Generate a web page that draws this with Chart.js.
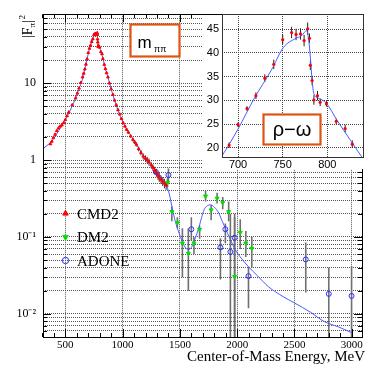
<!DOCTYPE html>
<html>
<head>
<meta charset="utf-8">
<script src="https://cdn.jsdelivr.net/npm/chart.js@4.4.1/dist/chart.umd.min.js"></script>
<style>
  html, body { margin: 0; padding: 0; background: #fff; }
  #wrap { position: relative; width: 367px; height: 366px; }
  #main { position: absolute; left: 0; top: 0; }
  #inset { position: absolute; left: 190px; top: 0; }
</style>
</head>
<body>
<div id="wrap">
  <canvas id="main" width="367" height="366"></canvas>
  <canvas id="inset" width="177" height="175"></canvas>
</div>
<script>
// CMD2 (red) - energy in MeV, |F|^2 and error
const cmd2E = [370, 382, 395, 410, 425, 440, 455, 470, 485, 500, 515, 530, 560, 590, 605, 620, 635, 650, 660, 670, 680,
  690, 700, 710, 720, 730, 740, 750, 760, 765, 770, 774, 778, 780, 781, 783, 785, 789, 792, 799, 810, 820, 828,
  840, 850, 860, 872, 885, 900, 915, 930, 945, 960, 975, 990, 1005, 1020, 1035, 1050, 1070, 1090, 1105, 1120,
  1140, 1160, 1180, 1200, 1215, 1230, 1250, 1265, 1280, 1295, 1310, 1320, 1335, 1350, 1365, 1380];
const cmd2F = [1.62, 1.75, 1.95, 2.15, 2.4, 2.6, 2.75, 2.85, 3.05, 3.35, 3.75, 4.2, 5.2, 6.4, 7.4, 8.6, 10.2, 12.0, 13.4, 15.2, 17.6,
  20.6, 24.9, 28.3, 31.0, 34.7, 37.6, 42.8, 44.3, 43.9, 44.0, 42.6, 45.1, 43.1, 37.4, 34.2, 30.1, 31.0, 29.6, 29.3, 25.6, 24.1, 20.8,
  17.5, 15.4, 13.6, 12.0, 10.0, 8.4, 7.1, 6.0, 5.2, 4.5, 3.95, 3.45, 3.05, 2.75, 2.5, 2.3, 2.05, 1.85, 1.72, 1.6,
  1.4, 1.25, 1.12, 1.05, 1.0, 0.95, 0.86, 0.8, 0.74, 0.69, 0.63, 0.6, 0.56, 0.53, 0.5, 0.47];
const cmd2Err = [0.05, 0.05, 0.06, 0.06, 0.07, 0.07, 0.08, 0.08, 0.08, 0.09, 0.1, 0.1, 0.12, 0.15, 0.2, 0.2, 0.25, 0.3, 0.3, 0.4, 0.5,
  0.6, 0.5, 0.5, 0.7, 0.8, 1.0, 1.0, 1.2, 1.2, 1.2, 1.2, 1.3, 1.0, 1.0, 1.0, 1.0, 1.0, 0.8, 0.6, 0.6, 0.8, 0.8,
  0.5, 0.5, 0.4, 0.4, 0.3, 0.3, 0.2, 0.2, 0.15, 0.15, 0.12, 0.1, 0.1, 0.1, 0.1, 0.1, 0.1, 0.1, 0.1, 0.1,
  0.1, 0.1, 0.1, 0.1, 0.1, 0.1, 0.08, 0.08, 0.08, 0.08, 0.08, 0.08, 0.07, 0.07, 0.07, 0.06];

// DM2 (green)
const dm2E = [1392, 1430, 1478, 1522, 1574, 1623, 1672, 1724, 1773, 1825, 1874, 1926, 1978, 2027, 2076, 2128];
const dm2F = [0.51, 0.213, 0.153, 0.083, 0.061, 0.083, 0.125, 0.34, 0.224, 0.318, 0.279, 0.213, 0.0305, 0.114, 0.083, 0.071];
const dm2Lo = [0.44, 0.16, 0.13, 0.030, 0.02, 0.06, 0.095, 0.29, 0.165, 0.273, 0.23, 0.16, 0.004, 0.07, 0.055, 0.04];
const dm2Hi = [0.58, 0.25, 0.18, 0.13, 0.13, 0.10, 0.14, 0.40, 0.26, 0.375, 0.33, 0.29, 0.2, 0.17, 0.12, 0.1];

// ADONE (blue circles)
const adoneE = [1290, 1400, 1600, 1854, 1897, 1941, 1978, 2099, 2599, 2800, 2999];
const adoneF = [0.70, 0.64, 0.126, 0.073, 0.126, 0.064, 0.098, 0.031, 0.051, 0.0182, 0.0171];
const adoneLo = [0.64, 0.50, 0.09, 0.028, 0.083, 0.004, 0.004, 0.0118, 0.019, 0.004, 0.004];
const adoneHi = [0.76, 0.78, 0.18, 0.096, 0.15, 0.2, 0.18, 0.041, 0.085, 0.04, 0.042];

// fit curve
const fitE = [305, 340, 380, 420, 460, 500, 540, 580, 620, 650, 682, 700, 718, 737, 751, 764, 771, 777, 779, 781, 783, 785,
  791, 799, 811, 826, 838, 850, 872, 900, 930, 960, 990, 1030, 1090, 1150, 1200, 1250, 1300, 1350, 1380, 1406, 1435,
  1460, 1493, 1522, 1545, 1570, 1600, 1623, 1650, 1672, 1690, 1710, 1740, 1767, 1800, 1840, 1870, 1897, 1940, 1984,
  2040, 2099, 2180, 2272, 2400, 2503, 2640, 2763, 2880, 3000];
const fitF = [1.4, 1.55, 1.75, 2.15, 2.65, 3.35, 4.35, 5.9, 8.5, 11.3, 18.4, 24.0, 30.4, 36.3, 41.2, 43.0, 43.6, 44.7, 43.0, 39.1, 34.2, 31.4,
  30.4, 29.4, 25.8, 21.6, 18.3, 15.3, 12.0, 8.4, 6.0, 4.4, 3.4, 2.6, 1.9, 1.35, 1.05, 0.87, 0.7, 0.58, 0.47, 0.37, 0.23,
  0.16, 0.112, 0.087, 0.074, 0.068, 0.073, 0.087, 0.112, 0.143, 0.18, 0.224, 0.255, 0.262, 0.245, 0.204, 0.16, 0.13, 0.093, 0.068,
  0.052, 0.041, 0.031, 0.0226, 0.0168, 0.0138, 0.0105, 0.0079, 0.0068, 0.0057];

const xTicks = [500, 1000, 1500, 2000, 2500, 3000];
const yTicks = [0.01, 0.1, 1, 10];
const yTickLabels = ['10⁻²', '10⁻¹', '1', '10'];
const insetXTicks = [700, 750, 800];
const insetYTicks = [20, 25, 30, 35, 40, 45];
const legendNames = ['CMD2', 'DM2', 'ADONE'];

const serif = 'Liberation Serif';
const sans = 'Liberation Sans';

const pts = (xs, ys) => xs.map((x, i) => ({ x: x, y: ys[i] }));

const errorBars = {
    id: 'errorBars',
    beforeDatasetsDraw(chart) {
        const { ctx, chartArea: a, scales: { x, y } } = chart;
        ctx.save();
        ctx.beginPath();
        ctx.rect(a.left, a.top, a.right - a.left, a.bottom - a.top);
        ctx.clip();
        chart.data.datasets.forEach(ds => {
            if (!ds.errLo) return;
            ctx.strokeStyle = ds.errColor;
            ctx.lineWidth = ds.errWidth;
            ds.data.forEach((p, j) => {
                const px = x.getPixelForValue(p.x);
                ctx.beginPath();
                ctx.moveTo(px, y.getPixelForValue(ds.errLo[j]));
                ctx.lineTo(px, y.getPixelForValue(ds.errHi[j]));
                ctx.stroke();
            });
        });
        ctx.restore();
    }
};

const frame = {
    id: 'frame',
    afterDraw(chart, args, opts) {
        const { ctx, chartArea: a } = chart;
        ctx.save();
        ctx.strokeStyle = opts.color || '#000';
        ctx.lineWidth = 1;
        ctx.strokeRect(Math.round(a.left) + 0.5, Math.round(a.top) + 0.5, Math.round(a.right - a.left), Math.round(a.bottom - a.top));
        ctx.restore();
    }
};

// small inner tick marks, ROOT style
const innerTicks = {
    id: 'innerTicks',
    afterDatasetsDraw(chart) {
        const { ctx, chartArea: a, scales: { x, y } } = chart;
        ctx.save();
        ctx.strokeStyle = '#000';
        ctx.lineWidth = 1;
        ctx.beginPath();
        const step = (xTicks[1] - xTicks[0]) / 5;
        for (let v = xTicks[0] - step * 2; v <= x.max; v += step) {
            const px = Math.round(x.getPixelForValue(v)) + 0.5;
            const len = (v % (step * 5) === 0) ? 8 : 4;
            ctx.moveTo(px, a.bottom); ctx.lineTo(px, a.bottom - len);
            ctx.moveTo(px, a.top); ctx.lineTo(px, a.top + len);
        }
        y.ticks.forEach(t => {
            const py = Math.round(y.getPixelForValue(t.value)) + 0.5;
            const len = t.major ? 8 : 4;
            ctx.moveTo(a.left, py); ctx.lineTo(a.left + len, py);
            ctx.moveTo(a.right, py); ctx.lineTo(a.right - len, py);
        });
        ctx.stroke();
        ctx.restore();
    }
};

const decorations = {
    id: 'decorations',
    afterDraw(chart) {
        const { ctx } = chart;
        ctx.save();
        // legend
        const rows = [213.5, 237, 260.5];
        legendNames.forEach((name, i) => {
            const ds = chart.data.datasets[i];
            ctx.fillStyle = ds.backgroundColor;
            ctx.strokeStyle = ds.borderColor;
            ctx.lineWidth = ds.borderWidth;
            Chart.helpers.drawPoint(ctx, {
                pointStyle: ds.pointStyle, radius: 3.2, rotation: ds.rotation || 0,
                borderWidth: ds.borderWidth
            }, 65.5, rows[i]);
            ctx.fillStyle = '#000';
            ctx.font = '15px "' + serif + '"';
            ctx.textBaseline = 'alphabetic';
            ctx.textAlign = 'left';
            ctx.fillText(name, 77, rows[i] + 5);
        });
        // x title
        ctx.fillStyle = '#000';
        ctx.font = '15px "' + serif + '"';
        ctx.textAlign = 'right';
        ctx.fillText('Center-of-Mass Energy, MeV', 365, 361);
        // y title |F_pi|^2
        ctx.save();
        ctx.translate(32, 38);
        ctx.rotate(-Math.PI / 2);
        ctx.textAlign = 'left';
        ctx.font = '14px "' + serif + '"';
        ctx.fillText('|F', 0, 0);
        let w = ctx.measureText('|F').width;
        ctx.font = '9px "' + serif + '"';
        ctx.fillText('π', w, 3);
        w += ctx.measureText('π').width;
        ctx.font = '14px "' + serif + '"';
        ctx.fillText('|', w, 0);
        w += ctx.measureText('|').width;
        ctx.font = '9px "' + serif + '"';
        ctx.fillText('2', w + 0.5, -7);
        ctx.restore();
        // m_pipi box
        ctx.fillStyle = '#fff';
        ctx.fillRect(130, 24, 49, 32);
        ctx.strokeStyle = '#dd5516';
        ctx.lineWidth = 2.2;
        ctx.strokeRect(130.5, 24.5, 49, 32);
        ctx.fillStyle = '#000';
        ctx.textAlign = 'left';
        ctx.font = '17px "' + sans + '"';
        ctx.fillText('m', 137.5, 47.5);
        ctx.font = '9px "' + sans + '"';
        ctx.fillText('ππ', 154, 52);
        ctx.restore();
    }
};

const mainSets = [
    {
        label: legendNames[0], data: pts(cmd2E, cmd2F),
        pointStyle: 'triangle', pointRadius: 1.6, backgroundColor: '#ff0000', borderColor: '#ff0000', borderWidth: 1,
        errLo: cmd2F.map((v, i) => v - cmd2Err[i]), errHi: cmd2F.map((v, i) => v + cmd2Err[i]),
        errColor: '#333', errWidth: 1
    },
    {
        label: legendNames[1], data: pts(dm2E, dm2F),
        pointStyle: 'triangle', rotation: 180, pointRadius: 2.3, backgroundColor: '#00e000', borderColor: '#00e000', borderWidth: 1,
        errLo: dm2Lo, errHi: dm2Hi, errColor: '#707070', errWidth: 1.6
    },
    {
        label: legendNames[2], data: pts(adoneE, adoneF),
        pointStyle: 'circle', pointRadius: 2.5, backgroundColor: 'rgba(0,0,0,0)', borderColor: '#3030ff', borderWidth: 1,
        errLo: adoneLo, errHi: adoneHi, errColor: '#707070', errWidth: 1.6
    },
    {
        type: 'line', label: 'fit', data: pts(fitE, fitF),
        borderColor: '#4a5cff', borderWidth: 1, pointRadius: 0, fill: false, cubicInterpolationMode: 'monotone'
    }
];

new Chart(document.getElementById('main'), {
    type: 'scatter',
    data: { datasets: mainSets },
    options: {
        responsive: false,
        animation: false,
        layout: { padding: { top: 14, right: 3, left: 0, bottom: 0 } },
        plugins: { legend: { display: false }, tooltip: { enabled: false }, frame: { color: '#000' } },
        scales: {
            x: {
                type: 'linear', min: 305, max: 3090,
                afterBuildTicks: s => { s.ticks = xTicks.map(v => ({ value: v })); },
                afterFit: s => { s.height = 29; },
                ticks: {
                    font: { family: serif, size: 11 }, color: '#000', padding: 2, maxRotation: 0, autoSkip: false,
                    callback: v => String(v)
                },
                grid: { color: '#555', drawTicks: false },
                border: { display: false, dash: [1, 1] }
            },
            y: {
                type: 'logarithmic', min: 0.005, max: 79,
                afterBuildTicks: s => {
                    const t = [];
                    yTicks.forEach(base => {
                        for (let m = 1; m <= 9; m++) t.push({ value: base * m, major: m === 1 });
                    });
                    t.unshift({ value: 0.005, major: false }, { value: 0.006, major: false },
                        { value: 0.007, major: false }, { value: 0.008, major: false }, { value: 0.009, major: false });
                    s.ticks = t.filter(k => k.value <= s.max);
                },
                afterFit: s => { s.width = 43; },
                ticks: {
                    font: { family: serif, size: 12 }, color: '#000', padding: 7, autoSkip: false,
                    callback: v => {
                        const i = yTicks.findIndex(t => Math.abs(Math.log10(t) - Math.log10(v)) < 1e-6);
                        return i >= 0 ? yTickLabels[i] : '';
                    }
                },
                grid: { color: '#555', drawTicks: false },
                border: { display: false, dash: [1, 1] }
            }
        }
    },
    plugins: [errorBars, innerTicks, frame, decorations]
});

// inset: rho-omega region
const insetPad = {
    id: 'insetPad',
    beforeDraw(chart) {
        const { ctx, chartArea: a } = chart;
        ctx.save();
        ctx.fillStyle = '#fff';
        ctx.fillRect(a.left - 19, a.top + 1, a.right - a.left + 21, a.bottom - a.top + 11);
        ctx.restore();
    },
    afterDraw(chart) {
        const { ctx, chartArea: a } = chart;
        ctx.save();
        const bx = a.left + 41, by = a.top + 100;
        ctx.fillStyle = '#fff';
        ctx.fillRect(bx, by, 58, 31);
        ctx.strokeStyle = '#dd5516';
        ctx.lineWidth = 2.2;
        ctx.strokeRect(bx + 0.5, by + 0.5, 57, 30);
        ctx.fillStyle = '#000';
        ctx.font = '20px "' + sans + '"';
        ctx.textAlign = 'center';
        ctx.textBaseline = 'alphabetic';
        ctx.fillText('ρ−ω', bx + 29, by + 22);
        ctx.restore();
    }
};

new Chart(document.getElementById('inset'), {
    type: 'scatter',
    data: {
        datasets: [
            {
                data: pts(cmd2E, cmd2F), pointStyle: 'circle', pointRadius: 1.6,
                backgroundColor: '#ff0000', borderColor: '#ff0000', borderWidth: 0,
                errLo: cmd2F.map((v, i) => v - cmd2Err[i]), errHi: cmd2F.map((v, i) => v + cmd2Err[i]),
                errColor: '#222', errWidth: 1
            },
            {
                type: 'line', data: pts(fitE, fitF), borderColor: '#4a5cff', borderWidth: 1, pointRadius: 0,
                fill: false, cubicInterpolationMode: 'monotone'
            }
        ]
    },
    options: {
        responsive: false,
        animation: false,
        layout: { padding: { top: 14, right: 2, left: 0, bottom: 0 } },
        plugins: { legend: { display: false }, tooltip: { enabled: false }, frame: { color: '#333' } },
        scales: {
            x: {
                type: 'linear', min: 682, max: 840,
                afterBuildTicks: s => { s.ticks = insetXTicks.map(v => ({ value: v })); },
                afterFit: s => { s.height = 18; },
                ticks: { font: { family: sans, size: 11 }, color: '#000', padding: 1, maxRotation: 0, autoSkip: false },
                grid: { color: '#444', drawTicks: false },
                border: { display: false, dash: [1, 1] }
            },
            y: {
                type: 'linear', min: 18.1, max: 48.2,
                afterBuildTicks: s => { s.ticks = insetYTicks.map(v => ({ value: v })); },
                afterFit: s => { s.width = 32; },
                ticks: { font: { family: sans, size: 11 }, color: '#000', padding: 3, autoSkip: false },
                grid: { color: '#444', drawTicks: false },
                border: { display: false, dash: [1, 1] }
            }
        }
    },
    plugins: [insetPad, errorBars, frame]
});
</script>
</body>
</html>
